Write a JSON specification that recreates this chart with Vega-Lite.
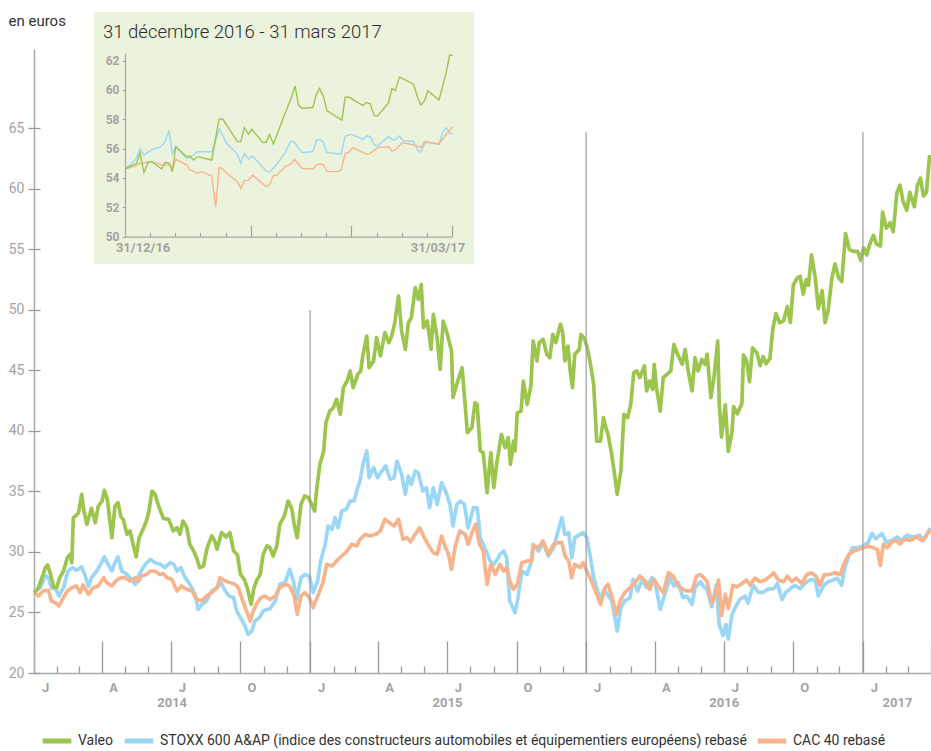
{
"$schema":"https://vega.github.io/schema/vega-lite/v6.json",
"width":897,"height":624,
"autosize":{"type":"none"},
"padding":{"left":34,"top":49,"right":0,"bottom":78},
"background":"white",
"config":{"view":{"stroke":null},"font":"Roboto"},
"layer":[
{"layer":[
 {"data":{"values":[
{"s":"STOXX","d":"2014-1","v":26.64},{"s":"STOXX","d":"2014-9","v":27.05},{"s":"STOXX","d":"2014-16","v":28.02},{"s":"STOXX","d":"2014-20","v":27.88},{"s":"STOXX","d":"2014-24","v":27.05},{"s":"STOXX","d":"2014-30","v":26.91},{"s":"STOXX","d":"2014-34","v":26.36},{"s":"STOXX","d":"2014-40","v":27.05},{"s":"STOXX","d":"2014-46","v":28.43},{"s":"STOXX","d":"2014-52","v":28.71},{"s":"STOXX","d":"2014-57","v":28.48},{"s":"STOXX","d":"2014-64","v":28.76},{"s":"STOXX","d":"2014-68","v":28.15},{"s":"STOXX","d":"2014-73","v":27.19},{"s":"STOXX","d":"2014-77","v":27.88},{"s":"STOXX","d":"2014-84","v":28.43},{"s":"STOXX","d":"2014-89","v":28.98},{"s":"STOXX","d":"2014-94","v":29.59},{"s":"STOXX","d":"2014-99","v":28.98},{"s":"STOXX","d":"2014-104","v":28.43},{"s":"STOXX","d":"2014-108","v":29.12},{"s":"STOXX","d":"2014-112","v":29.59},{"s":"STOXX","d":"2014-117","v":28.43},{"s":"STOXX","d":"2014-124","v":28.15},{"s":"STOXX","d":"2014-130","v":27.74},{"s":"STOXX","d":"2014-135","v":27.33},{"s":"STOXX","d":"2014-140","v":28.15},{"s":"STOXX","d":"2014-148","v":28.98},{"s":"STOXX","d":"2014-155","v":29.39},{"s":"STOXX","d":"2014-161","v":29.12},{"s":"STOXX","d":"2014-168","v":28.98},{"s":"STOXX","d":"2014-174","v":28.71},{"s":"STOXX","d":"2014-181","v":29.12},{"s":"STOXX","d":"2014-186","v":28.98},{"s":"STOXX","d":"2014-190","v":28.43},{"s":"STOXX","d":"2014-195","v":28.71},{"s":"STOXX","d":"2014-201","v":27.88},{"s":"STOXX","d":"2014-207","v":27.33},{"s":"STOXX","d":"2014-214","v":26.5},{"s":"STOXX","d":"2014-218","v":25.26},{"s":"STOXX","d":"2014-223","v":25.67},{"s":"STOXX","d":"2014-229","v":25.95},{"s":"STOXX","d":"2014-236","v":26.78},{"s":"STOXX","d":"2014-243","v":27.05},{"s":"STOXX","d":"2014-248","v":27.47},{"s":"STOXX","d":"2014-254","v":26.78},{"s":"STOXX","d":"2014-259","v":26.36},{"s":"STOXX","d":"2014-265","v":26.23},{"s":"STOXX","d":"2014-269","v":25.12},{"s":"STOXX","d":"2014-274","v":24.57},{"s":"STOXX","d":"2014-280","v":23.88},{"s":"STOXX","d":"2014-284","v":23.2},{"s":"STOXX","d":"2014-289","v":23.47},{"s":"STOXX","d":"2014-293","v":24.3},{"s":"STOXX","d":"2014-299","v":24.57},{"s":"STOXX","d":"2014-304","v":25.12},{"s":"STOXX","d":"2014-309","v":25.26},{"s":"STOXX","d":"2014-313","v":25.3},{"s":"STOXX","d":"2014-320","v":25.95},{"s":"STOXX","d":"2014-326","v":27.33},{"s":"STOXX","d":"2014-333","v":27.47},{"s":"STOXX","d":"2014-339","v":28.57},{"s":"STOXX","d":"2014-344","v":27.6},{"s":"STOXX","d":"2014-348","v":26.09},{"s":"STOXX","d":"2014-354","v":27.88},{"s":"STOXX","d":"2014-359","v":28.15},{"s":"STOXX","d":"2014-365","v":28.02},
{"s":"STOXX","d":"2015-5","v":26.64},{"s":"STOXX","d":"2015-11","v":27.6},{"s":"STOXX","d":"2015-15","v":29.26},{"s":"STOXX","d":"2015-21","v":30.63},{"s":"STOXX","d":"2015-25","v":32.15},{"s":"STOXX","d":"2015-30","v":31.87},{"s":"STOXX","d":"2015-34","v":32.84},{"s":"STOXX","d":"2015-38","v":32.01},{"s":"STOXX","d":"2015-43","v":33.39},{"s":"STOXX","d":"2015-49","v":33.53},{"s":"STOXX","d":"2015-54","v":34.21},{"s":"STOXX","d":"2015-59","v":34.21},{"s":"STOXX","d":"2015-64","v":35.32},{"s":"STOXX","d":"2015-67","v":35.87},{"s":"STOXX","d":"2015-71","v":37.25},{"s":"STOXX","d":"2015-76","v":38.35},{"s":"STOXX","d":"2015-79","v":36.14},{"s":"STOXX","d":"2015-85","v":36.97},{"s":"STOXX","d":"2015-90","v":36.14},{"s":"STOXX","d":"2015-96","v":36.69},{"s":"STOXX","d":"2015-101","v":37.11},{"s":"STOXX","d":"2015-107","v":36.01},{"s":"STOXX","d":"2015-112","v":36.14},{"s":"STOXX","d":"2015-116","v":37.52},{"s":"STOXX","d":"2015-122","v":36.42},{"s":"STOXX","d":"2015-127","v":34.77},{"s":"STOXX","d":"2015-131","v":36.28},{"s":"STOXX","d":"2015-135","v":35.59},{"s":"STOXX","d":"2015-140","v":36.69},{"s":"STOXX","d":"2015-144","v":36.56},{"s":"STOXX","d":"2015-150","v":35.04},{"s":"STOXX","d":"2015-155","v":35.32},{"s":"STOXX","d":"2015-159","v":33.66},{"s":"STOXX","d":"2015-164","v":35.32},{"s":"STOXX","d":"2015-169","v":33.94},{"s":"STOXX","d":"2015-175","v":35.73},{"s":"STOXX","d":"2015-181","v":34.9},{"s":"STOXX","d":"2015-186","v":33.94},{"s":"STOXX","d":"2015-190","v":32.15},{"s":"STOXX","d":"2015-195","v":33.94},{"s":"STOXX","d":"2015-200","v":34.21},{"s":"STOXX","d":"2015-205","v":33.94},{"s":"STOXX","d":"2015-210","v":32.01},{"s":"STOXX","d":"2015-217","v":33.66},{"s":"STOXX","d":"2015-222","v":33.66},{"s":"STOXX","d":"2015-226","v":31.18},{"s":"STOXX","d":"2015-232","v":30.36},{"s":"STOXX","d":"2015-239","v":29.26},{"s":"STOXX","d":"2015-244","v":28.98},{"s":"STOXX","d":"2015-250","v":29.53},{"s":"STOXX","d":"2015-252","v":29.81},{"s":"STOXX","d":"2015-257","v":30.08},{"s":"STOXX","d":"2015-261","v":29.53},{"s":"STOXX","d":"2015-265","v":25.95},{"s":"STOXX","d":"2015-272","v":24.99},{"s":"STOXX","d":"2015-276","v":26.23},{"s":"STOXX","d":"2015-281","v":28.43},{"s":"STOXX","d":"2015-288","v":28.15},{"s":"STOXX","d":"2015-294","v":29.26},{"s":"STOXX","d":"2015-296","v":30.63},{"s":"STOXX","d":"2015-303","v":30.08},{"s":"STOXX","d":"2015-309","v":30.77},{"s":"STOXX","d":"2015-316","v":29.67},{"s":"STOXX","d":"2015-323","v":30.36},{"s":"STOXX","d":"2015-329","v":31.74},{"s":"STOXX","d":"2015-334","v":32.84},{"s":"STOXX","d":"2015-338","v":31.46},{"s":"STOXX","d":"2015-343","v":31.6},{"s":"STOXX","d":"2015-347","v":29.53},{"s":"STOXX","d":"2015-351","v":31.18},{"s":"STOXX","d":"2015-358","v":31.46},{"s":"STOXX","d":"2015-362","v":31.6},
{"s":"STOXX","d":"2016-2","v":31.18},{"s":"STOXX","d":"2016-6","v":29.81},{"s":"STOXX","d":"2016-11","v":27.88},{"s":"STOXX","d":"2016-15","v":27.05},{"s":"STOXX","d":"2016-19","v":26.09},{"s":"STOXX","d":"2016-25","v":26.91},{"s":"STOXX","d":"2016-29","v":26.5},{"s":"STOXX","d":"2016-35","v":25.95},{"s":"STOXX","d":"2016-39","v":24.57},{"s":"STOXX","d":"2016-42","v":23.47},{"s":"STOXX","d":"2016-47","v":25.4},{"s":"STOXX","d":"2016-52","v":25.95},{"s":"STOXX","d":"2016-59","v":26.23},{"s":"STOXX","d":"2016-63","v":27.74},{"s":"STOXX","d":"2016-69","v":26.78},{"s":"STOXX","d":"2016-75","v":27.74},{"s":"STOXX","d":"2016-81","v":27.05},{"s":"STOXX","d":"2016-88","v":27.88},{"s":"STOXX","d":"2016-92","v":27.6},{"s":"STOXX","d":"2016-99","v":25.26},{"s":"STOXX","d":"2016-105","v":26.5},{"s":"STOXX","d":"2016-112","v":27.88},{"s":"STOXX","d":"2016-117","v":27.19},{"s":"STOXX","d":"2016-123","v":27.47},{"s":"STOXX","d":"2016-129","v":26.23},{"s":"STOXX","d":"2016-134","v":26.36},{"s":"STOXX","d":"2016-141","v":25.67},{"s":"STOXX","d":"2016-145","v":27.05},{"s":"STOXX","d":"2016-152","v":27.55},{"s":"STOXX","d":"2016-157","v":27.1},{"s":"STOXX","d":"2016-161","v":26.96},{"s":"STOXX","d":"2016-167","v":25.48},{"s":"STOXX","d":"2016-173","v":27.25},{"s":"STOXX","d":"2016-177","v":24.0},{"s":"STOXX","d":"2016-182","v":23.11},{"s":"STOXX","d":"2016-186","v":24.0},{"s":"STOXX","d":"2016-189","v":22.82},{"s":"STOXX","d":"2016-194","v":24.89},{"s":"STOXX","d":"2016-199","v":25.48},{"s":"STOXX","d":"2016-204","v":26.07},{"s":"STOXX","d":"2016-211","v":26.37},{"s":"STOXX","d":"2016-215","v":25.78},{"s":"STOXX","d":"2016-222","v":27.25},{"s":"STOXX","d":"2016-229","v":26.66},{"s":"STOXX","d":"2016-235","v":26.66},{"s":"STOXX","d":"2016-242","v":26.96},{"s":"STOXX","d":"2016-249","v":26.96},{"s":"STOXX","d":"2016-254","v":27.4},{"s":"STOXX","d":"2016-260","v":26.07},{"s":"STOXX","d":"2016-265","v":26.66},{"s":"STOXX","d":"2016-271","v":26.96},{"s":"STOXX","d":"2016-277","v":27.25},{"s":"STOXX","d":"2016-284","v":26.96},{"s":"STOXX","d":"2016-290","v":27.4},{"s":"STOXX","d":"2016-297","v":27.69},{"s":"STOXX","d":"2016-304","v":27.69},{"s":"STOXX","d":"2016-308","v":26.37},{"s":"STOXX","d":"2016-315","v":27.25},{"s":"STOXX","d":"2016-321","v":27.55},{"s":"STOXX","d":"2016-328","v":27.69},{"s":"STOXX","d":"2016-333","v":27.84},{"s":"STOXX","d":"2016-339","v":27.25},{"s":"STOXX","d":"2016-343","v":28.73},{"s":"STOXX","d":"2016-348","v":29.62},{"s":"STOXX","d":"2016-353","v":30.35},{"s":"STOXX","d":"2016-359","v":30.35},
{"s":"STOXX","d":"2017-2","v":30.5},{"s":"STOXX","d":"2017-8","v":30.8},{"s":"STOXX","d":"2017-13","v":31.54},{"s":"STOXX","d":"2017-18","v":31.09},{"s":"STOXX","d":"2017-26","v":31.54},{"s":"STOXX","d":"2017-32","v":30.8},{"s":"STOXX","d":"2017-39","v":30.95},{"s":"STOXX","d":"2017-46","v":31.24},{"s":"STOXX","d":"2017-52","v":30.95},{"s":"STOXX","d":"2017-59","v":31.39},{"s":"STOXX","d":"2017-68","v":31.24},{"s":"STOXX","d":"2017-76","v":31.39},{"s":"STOXX","d":"2017-81","v":30.95},{"s":"STOXX","d":"2017-85","v":31.39},{"s":"STOXX","d":"2017-90","v":31.98},
{"s":"CAC","d":"2014-1","v":26.64},{"s":"CAC","d":"2014-7","v":26.36},{"s":"CAC","d":"2014-13","v":26.78},{"s":"CAC","d":"2014-20","v":26.83},{"s":"CAC","d":"2014-24","v":25.95},{"s":"CAC","d":"2014-29","v":25.81},{"s":"CAC","d":"2014-34","v":25.54},{"s":"CAC","d":"2014-40","v":26.23},{"s":"CAC","d":"2014-45","v":26.78},{"s":"CAC","d":"2014-51","v":27.05},{"s":"CAC","d":"2014-57","v":27.19},{"s":"CAC","d":"2014-62","v":26.64},{"s":"CAC","d":"2014-66","v":27.27},{"s":"CAC","d":"2014-73","v":26.5},{"s":"CAC","d":"2014-79","v":27.05},{"s":"CAC","d":"2014-86","v":27.19},{"s":"CAC","d":"2014-93","v":27.88},{"s":"CAC","d":"2014-97","v":27.47},{"s":"CAC","d":"2014-104","v":27.19},{"s":"CAC","d":"2014-109","v":27.6},{"s":"CAC","d":"2014-116","v":27.88},{"s":"CAC","d":"2014-121","v":27.88},{"s":"CAC","d":"2014-128","v":27.6},{"s":"CAC","d":"2014-135","v":27.88},{"s":"CAC","d":"2014-139","v":27.55},{"s":"CAC","d":"2014-143","v":28.02},{"s":"CAC","d":"2014-150","v":28.15},{"s":"CAC","d":"2014-155","v":28.43},{"s":"CAC","d":"2014-161","v":28.43},{"s":"CAC","d":"2014-167","v":28.15},{"s":"CAC","d":"2014-172","v":28.21},{"s":"CAC","d":"2014-177","v":27.88},{"s":"CAC","d":"2014-183","v":27.74},{"s":"CAC","d":"2014-190","v":26.78},{"s":"CAC","d":"2014-196","v":27.19},{"s":"CAC","d":"2014-203","v":26.91},{"s":"CAC","d":"2014-210","v":26.78},{"s":"CAC","d":"2014-216","v":26.09},{"s":"CAC","d":"2014-223","v":25.95},{"s":"CAC","d":"2014-229","v":26.36},{"s":"CAC","d":"2014-236","v":26.64},{"s":"CAC","d":"2014-243","v":27.05},{"s":"CAC","d":"2014-247","v":27.88},{"s":"CAC","d":"2014-254","v":27.6},{"s":"CAC","d":"2014-260","v":27.47},{"s":"CAC","d":"2014-267","v":27.33},{"s":"CAC","d":"2014-271","v":27.05},{"s":"CAC","d":"2014-277","v":25.95},{"s":"CAC","d":"2014-282","v":25.12},{"s":"CAC","d":"2014-287","v":24.3},{"s":"CAC","d":"2014-290","v":24.99},{"s":"CAC","d":"2014-295","v":25.67},{"s":"CAC","d":"2014-301","v":26.23},{"s":"CAC","d":"2014-306","v":26.36},{"s":"CAC","d":"2014-313","v":26.09},{"s":"CAC","d":"2014-320","v":26.36},{"s":"CAC","d":"2014-326","v":27.05},{"s":"CAC","d":"2014-333","v":27.33},{"s":"CAC","d":"2014-339","v":27.19},{"s":"CAC","d":"2014-345","v":26.36},{"s":"CAC","d":"2014-349","v":24.85},{"s":"CAC","d":"2014-354","v":26.36},{"s":"CAC","d":"2014-359","v":26.64},{"s":"CAC","d":"2014-365","v":26.23},
{"s":"CAC","d":"2015-5","v":25.4},{"s":"CAC","d":"2015-12","v":26.5},{"s":"CAC","d":"2015-18","v":27.47},{"s":"CAC","d":"2015-23","v":28.98},{"s":"CAC","d":"2015-30","v":28.84},{"s":"CAC","d":"2015-36","v":29.26},{"s":"CAC","d":"2015-43","v":29.67},{"s":"CAC","d":"2015-50","v":30.08},{"s":"CAC","d":"2015-56","v":30.63},{"s":"CAC","d":"2015-63","v":30.5},{"s":"CAC","d":"2015-67","v":31.05},{"s":"CAC","d":"2015-74","v":31.46},{"s":"CAC","d":"2015-80","v":31.32},{"s":"CAC","d":"2015-88","v":31.46},{"s":"CAC","d":"2015-94","v":31.74},{"s":"CAC","d":"2015-100","v":32.7},{"s":"CAC","d":"2015-106","v":32.42},{"s":"CAC","d":"2015-112","v":32.15},{"s":"CAC","d":"2015-118","v":32.7},{"s":"CAC","d":"2015-124","v":31.05},{"s":"CAC","d":"2015-129","v":31.18},{"s":"CAC","d":"2015-134","v":30.85},{"s":"CAC","d":"2015-140","v":31.46},{"s":"CAC","d":"2015-146","v":32.01},{"s":"CAC","d":"2015-152","v":31.18},{"s":"CAC","d":"2015-157","v":30.63},{"s":"CAC","d":"2015-164","v":29.94},{"s":"CAC","d":"2015-169","v":29.81},{"s":"CAC","d":"2015-175","v":31.32},{"s":"CAC","d":"2015-180","v":30.36},{"s":"CAC","d":"2015-184","v":29.81},{"s":"CAC","d":"2015-188","v":28.57},{"s":"CAC","d":"2015-193","v":30.5},{"s":"CAC","d":"2015-199","v":31.74},{"s":"CAC","d":"2015-206","v":31.46},{"s":"CAC","d":"2015-210","v":30.63},{"s":"CAC","d":"2015-216","v":31.74},{"s":"CAC","d":"2015-220","v":32.29},{"s":"CAC","d":"2015-225","v":30.63},{"s":"CAC","d":"2015-230","v":30.08},{"s":"CAC","d":"2015-235","v":27.33},{"s":"CAC","d":"2015-240","v":28.98},{"s":"CAC","d":"2015-246","v":28.15},{"s":"CAC","d":"2015-252","v":28.98},{"s":"CAC","d":"2015-257","v":28.43},{"s":"CAC","d":"2015-261","v":28.71},{"s":"CAC","d":"2015-265","v":27.6},{"s":"CAC","d":"2015-270","v":26.91},{"s":"CAC","d":"2015-275","v":27.33},{"s":"CAC","d":"2015-281","v":29.12},{"s":"CAC","d":"2015-288","v":29.26},{"s":"CAC","d":"2015-294","v":29.26},{"s":"CAC","d":"2015-296","v":30.5},{"s":"CAC","d":"2015-303","v":30.36},{"s":"CAC","d":"2015-309","v":30.91},{"s":"CAC","d":"2015-316","v":29.81},{"s":"CAC","d":"2015-323","v":30.63},{"s":"CAC","d":"2015-329","v":30.77},{"s":"CAC","d":"2015-334","v":30.77},{"s":"CAC","d":"2015-338","v":29.67},{"s":"CAC","d":"2015-343","v":29.26},{"s":"CAC","d":"2015-347","v":27.88},{"s":"CAC","d":"2015-351","v":28.98},{"s":"CAC","d":"2015-358","v":28.71},{"s":"CAC","d":"2015-362","v":29.12},
{"s":"CAC","d":"2016-2","v":28.43},{"s":"CAC","d":"2016-8","v":27.6},{"s":"CAC","d":"2016-15","v":26.5},{"s":"CAC","d":"2016-20","v":25.67},{"s":"CAC","d":"2016-26","v":27.05},{"s":"CAC","d":"2016-30","v":27.33},{"s":"CAC","d":"2016-36","v":26.09},{"s":"CAC","d":"2016-41","v":24.85},{"s":"CAC","d":"2016-46","v":25.95},{"s":"CAC","d":"2016-52","v":26.64},{"s":"CAC","d":"2016-59","v":27.05},{"s":"CAC","d":"2016-66","v":27.47},{"s":"CAC","d":"2016-72","v":28.02},{"s":"CAC","d":"2016-79","v":27.6},{"s":"CAC","d":"2016-85","v":26.91},{"s":"CAC","d":"2016-91","v":27.74},{"s":"CAC","d":"2016-96","v":27.19},{"s":"CAC","d":"2016-103","v":26.64},{"s":"CAC","d":"2016-110","v":28.29},{"s":"CAC","d":"2016-116","v":28.02},{"s":"CAC","d":"2016-123","v":27.19},{"s":"CAC","d":"2016-129","v":26.91},{"s":"CAC","d":"2016-134","v":26.78},{"s":"CAC","d":"2016-141","v":26.78},{"s":"CAC","d":"2016-147","v":28.02},{"s":"CAC","d":"2016-152","v":28.14},{"s":"CAC","d":"2016-157","v":27.84},{"s":"CAC","d":"2016-161","v":27.55},{"s":"CAC","d":"2016-167","v":25.78},{"s":"CAC","d":"2016-171","v":26.37},{"s":"CAC","d":"2016-176","v":27.69},{"s":"CAC","d":"2016-180","v":24.74},{"s":"CAC","d":"2016-185","v":26.51},{"s":"CAC","d":"2016-189","v":25.33},{"s":"CAC","d":"2016-195","v":27.25},{"s":"CAC","d":"2016-200","v":27.1},{"s":"CAC","d":"2016-207","v":27.4},{"s":"CAC","d":"2016-213","v":27.69},{"s":"CAC","d":"2016-218","v":27.25},{"s":"CAC","d":"2016-224","v":27.84},{"s":"CAC","d":"2016-231","v":27.55},{"s":"CAC","d":"2016-238","v":27.69},{"s":"CAC","d":"2016-244","v":27.99},{"s":"CAC","d":"2016-249","v":28.28},{"s":"CAC","d":"2016-255","v":27.69},{"s":"CAC","d":"2016-262","v":27.55},{"s":"CAC","d":"2016-267","v":27.99},{"s":"CAC","d":"2016-273","v":27.55},{"s":"CAC","d":"2016-279","v":27.84},{"s":"CAC","d":"2016-286","v":27.4},{"s":"CAC","d":"2016-293","v":28.14},{"s":"CAC","d":"2016-299","v":28.28},{"s":"CAC","d":"2016-305","v":27.99},{"s":"CAC","d":"2016-310","v":27.25},{"s":"CAC","d":"2016-316","v":28.14},{"s":"CAC","d":"2016-323","v":28.14},{"s":"CAC","d":"2016-330","v":28.28},{"s":"CAC","d":"2016-337","v":28.14},{"s":"CAC","d":"2016-342","v":29.03},{"s":"CAC","d":"2016-348","v":29.77},{"s":"CAC","d":"2016-354","v":30.06},{"s":"CAC","d":"2016-361","v":30.21},
{"s":"CAC","d":"2017-2","v":30.35},{"s":"CAC","d":"2017-8","v":30.5},{"s":"CAC","d":"2017-15","v":30.35},{"s":"CAC","d":"2017-20","v":30.21},{"s":"CAC","d":"2017-24","v":28.88},{"s":"CAC","d":"2017-28","v":30.65},{"s":"CAC","d":"2017-33","v":30.35},{"s":"CAC","d":"2017-39","v":30.8},{"s":"CAC","d":"2017-45","v":30.95},{"s":"CAC","d":"2017-50","v":30.65},{"s":"CAC","d":"2017-57","v":31.09},{"s":"CAC","d":"2017-63","v":30.95},{"s":"CAC","d":"2017-72","v":31.24},{"s":"CAC","d":"2017-79","v":30.95},{"s":"CAC","d":"2017-85","v":31.39},{"s":"CAC","d":"2017-90","v":31.83},
{"s":"Valeo","d":"2014-1","v":26.64},{"s":"Valeo","d":"2014-7","v":27.05},{"s":"Valeo","d":"2014-16","v":28.7},{"s":"Valeo","d":"2014-19","v":28.93},{"s":"Valeo","d":"2014-23","v":28.15},{"s":"Valeo","d":"2014-27","v":27.1},{"s":"Valeo","d":"2014-31","v":27.05},{"s":"Valeo","d":"2014-35","v":27.88},{"s":"Valeo","d":"2014-40","v":28.43},{"s":"Valeo","d":"2014-45","v":29.53},{"s":"Valeo","d":"2014-49","v":29.81},{"s":"Valeo","d":"2014-51","v":29.12},{"s":"Valeo","d":"2014-53","v":32.84},{"s":"Valeo","d":"2014-56","v":32.98},{"s":"Valeo","d":"2014-60","v":33.25},{"s":"Valeo","d":"2014-64","v":34.77},{"s":"Valeo","d":"2014-67","v":33.39},{"s":"Valeo","d":"2014-71","v":32.29},{"s":"Valeo","d":"2014-77","v":33.61},{"s":"Valeo","d":"2014-82","v":32.42},{"s":"Valeo","d":"2014-86","v":33.8},{"s":"Valeo","d":"2014-91","v":34.21},{"s":"Valeo","d":"2014-94","v":35.1},{"s":"Valeo","d":"2014-98","v":34.35},{"s":"Valeo","d":"2014-104","v":31.18},{"s":"Valeo","d":"2014-108","v":33.8},{"s":"Valeo","d":"2014-112","v":34.08},{"s":"Valeo","d":"2014-116","v":32.89},{"s":"Valeo","d":"2014-119","v":32.7},{"s":"Valeo","d":"2014-124","v":31.46},{"s":"Valeo","d":"2014-128","v":31.74},{"s":"Valeo","d":"2014-136","v":29.59},{"s":"Valeo","d":"2014-140","v":31.18},{"s":"Valeo","d":"2014-146","v":32.01},{"s":"Valeo","d":"2014-150","v":32.62},{"s":"Valeo","d":"2014-153","v":33.39},{"s":"Valeo","d":"2014-157","v":35.04},{"s":"Valeo","d":"2014-161","v":34.77},{"s":"Valeo","d":"2014-165","v":33.94},{"s":"Valeo","d":"2014-172","v":32.78},{"s":"Valeo","d":"2014-179","v":32.7},{"s":"Valeo","d":"2014-185","v":31.74},{"s":"Valeo","d":"2014-190","v":32.01},{"s":"Valeo","d":"2014-194","v":31.46},{"s":"Valeo","d":"2014-198","v":32.56},{"s":"Valeo","d":"2014-203","v":32.01},{"s":"Valeo","d":"2014-207","v":30.63},{"s":"Valeo","d":"2014-212","v":30.08},{"s":"Valeo","d":"2014-216","v":29.53},{"s":"Valeo","d":"2014-220","v":28.71},{"s":"Valeo","d":"2014-225","v":28.84},{"s":"Valeo","d":"2014-230","v":30.36},{"s":"Valeo","d":"2014-236","v":31.32},{"s":"Valeo","d":"2014-240","v":30.91},{"s":"Valeo","d":"2014-243","v":30.22},{"s":"Valeo","d":"2014-249","v":31.6},{"s":"Valeo","d":"2014-255","v":31.24},{"s":"Valeo","d":"2014-260","v":31.6},{"s":"Valeo","d":"2014-265","v":30.08},{"s":"Valeo","d":"2014-270","v":29.75},{"s":"Valeo","d":"2014-274","v":28.15},{"s":"Valeo","d":"2014-279","v":27.74},{"s":"Valeo","d":"2014-283","v":27.05},{"s":"Valeo","d":"2014-288","v":25.67},{"s":"Valeo","d":"2014-292","v":27.05},{"s":"Valeo","d":"2014-295","v":27.6},{"s":"Valeo","d":"2014-300","v":28.15},{"s":"Valeo","d":"2014-304","v":29.81},{"s":"Valeo","d":"2014-309","v":30.5},{"s":"Valeo","d":"2014-313","v":30.36},{"s":"Valeo","d":"2014-317","v":29.67},{"s":"Valeo","d":"2014-322","v":30.5},{"s":"Valeo","d":"2014-326","v":32.29},{"s":"Valeo","d":"2014-332","v":32.98},{"s":"Valeo","d":"2014-337","v":34.21},{"s":"Valeo","d":"2014-342","v":33.53},{"s":"Valeo","d":"2014-345","v":32.29},{"s":"Valeo","d":"2014-349","v":31.18},{"s":"Valeo","d":"2014-354","v":33.94},{"s":"Valeo","d":"2014-359","v":34.63},{"s":"Valeo","d":"2014-364","v":34.49},
{"s":"Valeo","d":"2015-3","v":33.94},{"s":"Valeo","d":"2015-7","v":33.39},{"s":"Valeo","d":"2015-10","v":35.32},{"s":"Valeo","d":"2015-14","v":37.25},{"s":"Valeo","d":"2015-19","v":38.35},{"s":"Valeo","d":"2015-22","v":40.69},{"s":"Valeo","d":"2015-27","v":41.65},{"s":"Valeo","d":"2015-32","v":41.93},{"s":"Valeo","d":"2015-36","v":42.62},{"s":"Valeo","d":"2015-41","v":41.38},{"s":"Valeo","d":"2015-45","v":43.58},{"s":"Valeo","d":"2015-50","v":44.13},{"s":"Valeo","d":"2015-54","v":44.96},{"s":"Valeo","d":"2015-58","v":43.58},{"s":"Valeo","d":"2015-64","v":44.68},{"s":"Valeo","d":"2015-68","v":44.96},{"s":"Valeo","d":"2015-71","v":46.34},{"s":"Valeo","d":"2015-76","v":47.85},{"s":"Valeo","d":"2015-79","v":45.23},{"s":"Valeo","d":"2015-85","v":45.79},{"s":"Valeo","d":"2015-89","v":47.71},{"s":"Valeo","d":"2015-94","v":46.2},{"s":"Valeo","d":"2015-100","v":48.13},{"s":"Valeo","d":"2015-105","v":47.3},{"s":"Valeo","d":"2015-109","v":47.85},{"s":"Valeo","d":"2015-113","v":48.95},{"s":"Valeo","d":"2015-118","v":51.16},{"s":"Valeo","d":"2015-122","v":48.26},{"s":"Valeo","d":"2015-127","v":46.75},{"s":"Valeo","d":"2015-131","v":48.95},{"s":"Valeo","d":"2015-135","v":49.37},{"s":"Valeo","d":"2015-140","v":51.85},{"s":"Valeo","d":"2015-144","v":50.88},{"s":"Valeo","d":"2015-148","v":52.12},{"s":"Valeo","d":"2015-151","v":48.54},{"s":"Valeo","d":"2015-156","v":49.09},{"s":"Valeo","d":"2015-161","v":46.75},{"s":"Valeo","d":"2015-164","v":49.64},{"s":"Valeo","d":"2015-169","v":47.71},{"s":"Valeo","d":"2015-173","v":45.1},{"s":"Valeo","d":"2015-177","v":49.09},{"s":"Valeo","d":"2015-182","v":48.13},{"s":"Valeo","d":"2015-188","v":46.61},{"s":"Valeo","d":"2015-190","v":42.76},{"s":"Valeo","d":"2015-195","v":43.86},{"s":"Valeo","d":"2015-202","v":45.23},{"s":"Valeo","d":"2015-206","v":42.2},{"s":"Valeo","d":"2015-209","v":39.86},{"s":"Valeo","d":"2015-215","v":40.28},{"s":"Valeo","d":"2015-219","v":42.34},{"s":"Valeo","d":"2015-222","v":42.2},{"s":"Valeo","d":"2015-226","v":38.35},{"s":"Valeo","d":"2015-230","v":38.21},{"s":"Valeo","d":"2015-235","v":34.9},{"s":"Valeo","d":"2015-240","v":38.21},{"s":"Valeo","d":"2015-244","v":35.32},{"s":"Valeo","d":"2015-248","v":37.38},{"s":"Valeo","d":"2015-254","v":39.72},{"s":"Valeo","d":"2015-259","v":38.62},{"s":"Valeo","d":"2015-263","v":39.45},{"s":"Valeo","d":"2015-266","v":37.25},{"s":"Valeo","d":"2015-270","v":39.17},{"s":"Valeo","d":"2015-272","v":38.35},{"s":"Valeo","d":"2015-275","v":41.52},{"s":"Valeo","d":"2015-280","v":41.65},{"s":"Valeo","d":"2015-283","v":44.13},{"s":"Valeo","d":"2015-288","v":42.2},{"s":"Valeo","d":"2015-293","v":43.72},{"s":"Valeo","d":"2015-296","v":47.44},{"s":"Valeo","d":"2015-301","v":45.79},{"s":"Valeo","d":"2015-304","v":47.3},{"s":"Valeo","d":"2015-309","v":47.58},{"s":"Valeo","d":"2015-314","v":46.34},{"s":"Valeo","d":"2015-318","v":46.06},{"s":"Valeo","d":"2015-322","v":47.99},{"s":"Valeo","d":"2015-326","v":47.3},{"s":"Valeo","d":"2015-332","v":48.82},{"s":"Valeo","d":"2015-335","v":48.13},{"s":"Valeo","d":"2015-338","v":45.79},{"s":"Valeo","d":"2015-342","v":47.02},{"s":"Valeo","d":"2015-345","v":44.96},{"s":"Valeo","d":"2015-348","v":43.58},{"s":"Valeo","d":"2015-351","v":46.34},{"s":"Valeo","d":"2015-357","v":46.75},{"s":"Valeo","d":"2015-359","v":47.99},{"s":"Valeo","d":"2015-363","v":47.71},
{"s":"Valeo","d":"2016-2","v":47.02},{"s":"Valeo","d":"2016-6","v":45.79},{"s":"Valeo","d":"2016-11","v":43.86},{"s":"Valeo","d":"2016-15","v":39.17},{"s":"Valeo","d":"2016-20","v":39.17},{"s":"Valeo","d":"2016-24","v":41.1},{"s":"Valeo","d":"2016-27","v":40.28},{"s":"Valeo","d":"2016-30","v":39.72},{"s":"Valeo","d":"2016-34","v":38.35},{"s":"Valeo","d":"2016-38","v":36.69},{"s":"Valeo","d":"2016-42","v":34.77},{"s":"Valeo","d":"2016-47","v":36.69},{"s":"Valeo","d":"2016-51","v":41.38},{"s":"Valeo","d":"2016-56","v":41.1},{"s":"Valeo","d":"2016-60","v":42.2},{"s":"Valeo","d":"2016-64","v":44.82},{"s":"Valeo","d":"2016-68","v":44.96},{"s":"Valeo","d":"2016-72","v":44.41},{"s":"Valeo","d":"2016-78","v":45.37},{"s":"Valeo","d":"2016-81","v":43.31},{"s":"Valeo","d":"2016-85","v":44.13},{"s":"Valeo","d":"2016-89","v":43.44},{"s":"Valeo","d":"2016-91","v":45.51},{"s":"Valeo","d":"2016-94","v":43.58},{"s":"Valeo","d":"2016-99","v":41.65},{"s":"Valeo","d":"2016-103","v":44.41},{"s":"Valeo","d":"2016-108","v":44.68},{"s":"Valeo","d":"2016-113","v":44.96},{"s":"Valeo","d":"2016-117","v":47.16},{"s":"Valeo","d":"2016-122","v":46.34},{"s":"Valeo","d":"2016-128","v":45.51},{"s":"Valeo","d":"2016-132","v":46.75},{"s":"Valeo","d":"2016-136","v":44.96},{"s":"Valeo","d":"2016-141","v":43.31},{"s":"Valeo","d":"2016-145","v":46.06},{"s":"Valeo","d":"2016-149","v":44.96},{"s":"Valeo","d":"2016-154","v":45.92},{"s":"Valeo","d":"2016-158","v":45.51},{"s":"Valeo","d":"2016-161","v":46.34},{"s":"Valeo","d":"2016-166","v":42.76},{"s":"Valeo","d":"2016-170","v":44.41},{"s":"Valeo","d":"2016-175","v":47.44},{"s":"Valeo","d":"2016-177","v":42.3},{"s":"Valeo","d":"2016-180","v":39.5},{"s":"Valeo","d":"2016-185","v":42.16},{"s":"Valeo","d":"2016-189","v":38.32},{"s":"Valeo","d":"2016-194","v":39.94},{"s":"Valeo","d":"2016-196","v":42.01},{"s":"Valeo","d":"2016-201","v":41.42},{"s":"Valeo","d":"2016-207","v":42.3},{"s":"Valeo","d":"2016-209","v":46.29},{"s":"Valeo","d":"2016-213","v":45.84},{"s":"Valeo","d":"2016-217","v":44.07},{"s":"Valeo","d":"2016-221","v":46.87},{"s":"Valeo","d":"2016-227","v":46.43},{"s":"Valeo","d":"2016-231","v":45.4},{"s":"Valeo","d":"2016-235","v":46.14},{"s":"Valeo","d":"2016-239","v":45.56},{"s":"Valeo","d":"2016-244","v":46.0},{"s":"Valeo","d":"2016-248","v":48.51},{"s":"Valeo","d":"2016-252","v":49.69},{"s":"Valeo","d":"2016-257","v":48.95},{"s":"Valeo","d":"2016-262","v":49.1},{"s":"Valeo","d":"2016-267","v":50.28},{"s":"Valeo","d":"2016-271","v":48.95},{"s":"Valeo","d":"2016-275","v":52.05},{"s":"Valeo","d":"2016-280","v":52.64},{"s":"Valeo","d":"2016-284","v":52.79},{"s":"Valeo","d":"2016-288","v":51.31},{"s":"Valeo","d":"2016-292","v":52.49},{"s":"Valeo","d":"2016-295","v":52.05},{"s":"Valeo","d":"2016-299","v":54.56},{"s":"Valeo","d":"2016-304","v":52.64},{"s":"Valeo","d":"2016-308","v":50.13},{"s":"Valeo","d":"2016-313","v":51.6},{"s":"Valeo","d":"2016-317","v":48.95},{"s":"Valeo","d":"2016-321","v":49.98},{"s":"Valeo","d":"2016-326","v":52.64},{"s":"Valeo","d":"2016-330","v":53.82},{"s":"Valeo","d":"2016-335","v":52.64},{"s":"Valeo","d":"2016-339","v":52.34},{"s":"Valeo","d":"2016-344","v":56.32},{"s":"Valeo","d":"2016-349","v":54.99},{"s":"Valeo","d":"2016-354","v":54.85},{"s":"Valeo","d":"2016-360","v":54.85},{"s":"Valeo","d":"2016-364","v":54.11},
{"s":"Valeo","d":"2017-2","v":55.14},{"s":"Valeo","d":"2017-6","v":54.55},{"s":"Valeo","d":"2017-10","v":55.44},{"s":"Valeo","d":"2017-15","v":56.17},{"s":"Valeo","d":"2017-19","v":55.44},{"s":"Valeo","d":"2017-24","v":55.29},{"s":"Valeo","d":"2017-27","v":58.09},{"s":"Valeo","d":"2017-32","v":56.76},{"s":"Valeo","d":"2017-37","v":57.21},{"s":"Valeo","d":"2017-41","v":56.47},{"s":"Valeo","d":"2017-46","v":59.72},{"s":"Valeo","d":"2017-50","v":60.31},{"s":"Valeo","d":"2017-54","v":58.98},{"s":"Valeo","d":"2017-59","v":58.24},{"s":"Valeo","d":"2017-63","v":59.72},{"s":"Valeo","d":"2017-69","v":58.54},{"s":"Valeo","d":"2017-73","v":60.31},{"s":"Valeo","d":"2017-77","v":60.9},{"s":"Valeo","d":"2017-81","v":59.42},{"s":"Valeo","d":"2017-85","v":59.72},{"s":"Valeo","d":"2017-89","v":62.67},{"s":"Valeo","d":"2017-90","v":62.4}
 ],"format":{"parse":{"d":"date:'%Y-%j'"}}},
 "mark":{"type":"line","strokeWidth":3.7,"strokeJoin":"round"},
 "encoding":{
  "x":{"field":"d","type":"temporal","title":null,
   "scale":{"domain":[{"year":2014,"month":1,"date":1},{"year":2017,"month":4,"date":1}],"nice":false},
   "axis":{"orient":"bottom","tickCount":{"interval":"month","step":1},"grid":false,
    "tickSize":{"condition":{"test":"month(datum.value) % 3 == 0","value":-32},"value":-7},
    "tickColor":"#9a9a9a","tickWidth":1.3,"domainColor":"#aaaaaa","domainWidth":1.5,
    "labelExpr":"(year(datum.value) == 2017 && month(datum.value) >= 3) ? '' : month(datum.value)==0 ? 'J' : month(datum.value)==3 ? 'A' : month(datum.value)==6 ? 'J' : month(datum.value)==9 ? 'O' : ''",
    "labelOffset":11,"labelPadding":40,"labelFlush":false,"labelOverlap":false,
    "labelColor":"#a3a3a3","labelFontSize":13,"labelFontWeight":"bold"}},
  "y":{"field":"v","type":"quantitative",
   "scale":{"domain":[20,71.57],"nice":false,"zero":false},
   "axis":{"orient":"left","values":[20,25,30,35,40,45,50,55,60,65],"grid":false,"tickSize":6,"tickColor":"#9a9a9a","tickWidth":1.3,
    "domainColor":"#aaaaaa","domainWidth":1.5,"labelColor":"#a3a3a3","labelFontSize":14,"labelPadding":4,
    "title":"en euros","titleAngle":0,"titleAlign":"left","titleBaseline":"middle","titleX":-26,"titleY":-29,
    "titleFontSize":15,"titleFontWeight":"normal","titleColor":"#333333"}},
  "color":{"field":"s","type":"nominal",
   "scale":{"domain":["Valeo","STOXX","CAC"],"range":["#9cc54e","#9ad6f5","#f7b48c"]},
   "legend":{"orient":"none","legendX":6,"legendY":675,"direction":"horizontal","title":null,
    "symbolType":"stroke","symbolSize":820,"symbolStrokeWidth":5,"labelFontSize":14,"labelLimit":900,
    "columnPadding":0,"labelOffset":4,"labelColor":"#333333",
    "labelExpr":"datum.label == 'STOXX' ? 'STOXX 600 A&AP (indice des constructeurs automobiles et équipementiers européens) rebasé' : datum.label == 'CAC' ? 'CAC 40 rebasé' : datum.label"}}
 }},
 {"data":{"values":[{"d":"2015-1","lo":20,"top":50},{"d":"2016-1","lo":20,"top":64.7},{"d":"2017-1","lo":20,"top":64.7}],"format":{"parse":{"d":"date:'%Y-%j'"}}},
  "mark":{"type":"rule","color":"#9a9a9a","strokeWidth":1.2},
  "encoding":{
   "x":{"field":"d","type":"temporal","title":null,
    "axis":{"orient":"bottom","values":[{"year":2014,"month":7,"date":2},{"year":2015,"month":7,"date":1},{"year":2016,"month":7,"date":1},{"year":2017,"month":2,"date":15}],
     "labelExpr":"timeFormat(datum.value, '%Y')","ticks":false,"domain":false,"grid":false,"labelPadding":23,
     "labelFlush":false,"labelOverlap":false,"labelColor":"#a3a3a3","labelFontSize":13,"labelFontWeight":"bold"}},
   "y":{"field":"lo","type":"quantitative","title":null,
    "axis":{"orient":"left","values":[20,25,30,35,40,45,50,55,60,65],"tickSize":-6,"tickColor":"#9a9a9a","tickWidth":1.3,"labels":false,"domain":false,"grid":false,"title":null}},
   "y2":{"field":"top"}
  }}
 ],
 "resolve":{"axis":{"x":"independent","y":"independent"}}
},
{"layer":[
 {"data":{"values":[{}]},
  "mark":{"type":"rect","color":"#ecf3dd"},
  "encoding":{
   "x":{"datum":-6.16,"type":"quantitative","scale":{"domain":[0,65],"range":[91,418],"nice":false,"zero":false},
    "axis":{"orient":"bottom","offset":-436.4,"values":[3.5,62.12],"labelExpr":"datum.value < 30 ? '31/12/16' : '31/03/17'",
     "ticks":false,"domain":false,"grid":false,"labelPadding":5,"labelFlush":false,"labelOverlap":false,"zindex":2,
     "labelColor":"#a3a3a3","labelFontSize":13,"labelFontWeight":"bold","title":null}},
   "x2":{"datum":69.37},
   "y":{"datum":48.13,"type":"quantitative","scale":{"domain":[50,62.5],"range":[187.6,4.3],"nice":false,"zero":false},"axis":null},
   "y2":{"datum":65.32}
  }},
 {"data":{"values":[{}]},
  "mark":{"type":"text","text":"31 décembre 2016 - 31 mars 2017","align":"left","baseline":"middle","fontSize":18.5,"fontWeight":300,"color":"#2b2b2b"},
  "encoding":{
   "x":{"datum":-4.37,"type":"quantitative","axis":null},
   "y":{"datum":63.95,"type":"quantitative","axis":null}
  }},
 {"data":{"values":[
{"s":"STOXX","j":0,"v":54.61},{"s":"STOXX","j":2.19,"v":55.29},{"s":"STOXX","j":2.98,"v":55.97},{"s":"STOXX","j":3.78,"v":55.57},{"s":"STOXX","j":5.31,"v":55.91},{"s":"STOXX","j":7.1,"v":56.13},{"s":"STOXX","j":7.96,"v":56.48},{"s":"STOXX","j":8.75,"v":57.25},{"s":"STOXX","j":9.42,"v":55.63},{"s":"STOXX","j":10.08,"v":56.13},{"s":"STOXX","j":12.27,"v":55.34},{"s":"STOXX","j":12.93,"v":55.38},{"s":"STOXX","j":14.39,"v":55.79},{"s":"STOXX","j":17.24,"v":55.79},{"s":"STOXX","j":18.77,"v":57.32},{"s":"STOXX","j":20.23,"v":56.36},{"s":"STOXX","j":22.35,"v":55.61},{"s":"STOXX","j":23.01,"v":55.0},{"s":"STOXX","j":23.74,"v":55.68},{"s":"STOXX","j":24.54,"v":55.27},{"s":"STOXX","j":25.33,"v":55.5},{"s":"STOXX","j":28.18,"v":54.43},{"s":"STOXX","j":28.85,"v":54.43},{"s":"STOXX","j":30.17,"v":54.93},{"s":"STOXX","j":31.83,"v":55.75},{"s":"STOXX","j":33.02,"v":56.52},{"s":"STOXX","j":33.69,"v":56.43},{"s":"STOXX","j":35.15,"v":55.73},{"s":"STOXX","j":37.33,"v":55.79},{"s":"STOXX","j":38.13,"v":56.59},{"s":"STOXX","j":38.79,"v":56.63},{"s":"STOXX","j":39.46,"v":56.41},{"s":"STOXX","j":40.12,"v":55.73},{"s":"STOXX","j":42.97,"v":55.63},{"s":"STOXX","j":43.77,"v":56.86},{"s":"STOXX","j":45.09,"v":56.97},{"s":"STOXX","j":47.28,"v":56.63},{"s":"STOXX","j":48.08,"v":56.88},{"s":"STOXX","j":48.74,"v":56.82},{"s":"STOXX","j":49.54,"v":56.25},{"s":"STOXX","j":50.2,"v":56.18},{"s":"STOXX","j":52.39,"v":56.82},{"s":"STOXX","j":53.05,"v":56.63},{"s":"STOXX","j":53.71,"v":56.59},{"s":"STOXX","j":54.51,"v":56.86},{"s":"STOXX","j":55.24,"v":56.54},{"s":"STOXX","j":57.36,"v":56.48},{"s":"STOXX","j":58.16,"v":55.91},{"s":"STOXX","j":58.82,"v":55.75},{"s":"STOXX","j":59.55,"v":56.32},{"s":"STOXX","j":60.21,"v":56.43},{"s":"STOXX","j":62.4,"v":56.29},{"s":"STOXX","j":63.2,"v":57.16},{"s":"STOXX","j":63.86,"v":57.43},{"s":"STOXX","j":64.52,"v":57.04},{"s":"STOXX","j":65.2,"v":57.04},
{"s":"CAC","j":0,"v":54.61},{"s":"CAC","j":2.19,"v":54.84},{"s":"CAC","j":2.98,"v":55.0},{"s":"CAC","j":4.64,"v":55.07},{"s":"CAC","j":5.31,"v":55.11},{"s":"CAC","j":7.29,"v":54.89},{"s":"CAC","j":8.82,"v":54.89},{"s":"CAC","j":9.42,"v":54.61},{"s":"CAC","j":10.08,"v":55.27},{"s":"CAC","j":12.27,"v":54.89},{"s":"CAC","j":12.93,"v":54.54},{"s":"CAC","j":13.59,"v":54.47},{"s":"CAC","j":14.39,"v":54.32},{"s":"CAC","j":15.25,"v":54.43},{"s":"CAC","j":17.24,"v":54.13},{"s":"CAC","j":18.04,"v":52.0},{"s":"CAC","j":18.7,"v":54.72},{"s":"CAC","j":19.43,"v":54.61},{"s":"CAC","j":20.23,"v":54.32},{"s":"CAC","j":22.35,"v":53.75},{"s":"CAC","j":23.01,"v":53.29},{"s":"CAC","j":23.74,"v":53.82},{"s":"CAC","j":24.54,"v":53.82},{"s":"CAC","j":25.33,"v":54.2},{"s":"CAC","j":28.05,"v":53.41},{"s":"CAC","j":28.71,"v":53.52},{"s":"CAC","j":29.51,"v":54.16},{"s":"CAC","j":30.17,"v":54.2},{"s":"CAC","j":31.83,"v":54.77},{"s":"CAC","j":33.02,"v":54.95},{"s":"CAC","j":33.69,"v":55.27},{"s":"CAC","j":35.15,"v":54.66},{"s":"CAC","j":37.33,"v":54.61},{"s":"CAC","j":38.13,"v":54.89},{"s":"CAC","j":38.79,"v":54.95},{"s":"CAC","j":39.46,"v":54.89},{"s":"CAC","j":40.12,"v":54.43},{"s":"CAC","j":42.31,"v":54.43},{"s":"CAC","j":42.97,"v":54.54},{"s":"CAC","j":43.77,"v":55.68},{"s":"CAC","j":44.43,"v":55.73},{"s":"CAC","j":45.29,"v":56.07},{"s":"CAC","j":47.28,"v":55.75},{"s":"CAC","j":48.08,"v":55.61},{"s":"CAC","j":48.74,"v":55.68},{"s":"CAC","j":50.2,"v":56.07},{"s":"CAC","j":52.39,"v":56.13},{"s":"CAC","j":53.05,"v":55.84},{"s":"CAC","j":53.71,"v":55.91},{"s":"CAC","j":55.17,"v":56.41},{"s":"CAC","j":57.36,"v":56.25},{"s":"CAC","j":58.82,"v":56.07},{"s":"CAC","j":59.55,"v":56.48},{"s":"CAC","j":62.4,"v":56.32},{"s":"CAC","j":63.86,"v":56.98},{"s":"CAC","j":65.19,"v":57.5},
{"s":"Valeo","j":0,"v":54.61},{"s":"Valeo","j":2.32,"v":55.0},{"s":"Valeo","j":2.98,"v":55.68},{"s":"Valeo","j":3.78,"v":54.36},{"s":"Valeo","j":4.64,"v":55.11},{"s":"Valeo","j":5.31,"v":55.11},{"s":"Valeo","j":7.29,"v":54.61},{"s":"Valeo","j":7.96,"v":55.07},{"s":"Valeo","j":8.82,"v":55.0},{"s":"Valeo","j":9.42,"v":54.43},{"s":"Valeo","j":10.08,"v":56.13},{"s":"Valeo","j":12.27,"v":55.45},{"s":"Valeo","j":12.93,"v":55.5},{"s":"Valeo","j":13.59,"v":55.22},{"s":"Valeo","j":14.39,"v":55.45},{"s":"Valeo","j":17.24,"v":55.22},{"s":"Valeo","j":18.7,"v":58.02},{"s":"Valeo","j":19.43,"v":58.02},{"s":"Valeo","j":22.35,"v":56.48},{"s":"Valeo","j":23.01,"v":56.48},{"s":"Valeo","j":23.74,"v":57.43},{"s":"Valeo","j":24.54,"v":56.98},{"s":"Valeo","j":25.2,"v":57.32},{"s":"Valeo","j":27.39,"v":56.41},{"s":"Valeo","j":28.05,"v":56.43},{"s":"Valeo","j":28.71,"v":56.98},{"s":"Valeo","j":29.51,"v":56.32},{"s":"Valeo","j":31.83,"v":58.41},{"s":"Valeo","j":33.02,"v":59.43},{"s":"Valeo","j":33.82,"v":60.27},{"s":"Valeo","j":34.48,"v":58.98},{"s":"Valeo","j":35.15,"v":58.75},{"s":"Valeo","j":37.33,"v":58.8},{"s":"Valeo","j":38.0,"v":59.66},{"s":"Valeo","j":38.66,"v":60.11},{"s":"Valeo","j":39.46,"v":59.55},{"s":"Valeo","j":40.12,"v":58.59},{"s":"Valeo","j":43.1,"v":57.95},{"s":"Valeo","j":43.77,"v":59.5},{"s":"Valeo","j":44.63,"v":59.5},{"s":"Valeo","j":47.28,"v":58.93},{"s":"Valeo","j":47.94,"v":59.14},{"s":"Valeo","j":48.74,"v":59.05},{"s":"Valeo","j":49.54,"v":58.25},{"s":"Valeo","j":50.2,"v":58.23},{"s":"Valeo","j":52.39,"v":59.14},{"s":"Valeo","j":53.05,"v":60.11},{"s":"Valeo","j":53.71,"v":59.95},{"s":"Valeo","j":54.58,"v":60.89},{"s":"Valeo","j":57.36,"v":60.39},{"s":"Valeo","j":58.16,"v":59.5},{"s":"Valeo","j":58.82,"v":58.98},{"s":"Valeo","j":59.55,"v":59.27},{"s":"Valeo","j":60.21,"v":59.95},{"s":"Valeo","j":62.4,"v":59.32},{"s":"Valeo","j":63.86,"v":61.18},{"s":"Valeo","j":64.52,"v":62.39},{"s":"Valeo","j":65.2,"v":62.34}
 ]},
  "mark":{"type":"line","strokeWidth":1.4},
  "encoding":{
   "x":{"field":"j","type":"quantitative","title":null,
    "axis":{"orient":"bottom","offset":-436.4,"values":[5,10,15,20,25,30,35,40,45,50,55,60,65],"labels":false,"grid":false,"zindex":2,
     "tickSize":{"condition":{"test":"datum.value == 25 || datum.value == 45 || datum.value == 65","value":-11},"value":-4},
     "tickColor":"#a0a0a0","tickWidth":1.2,"domainColor":"#a8a8a8","domainWidth":1.3}},
   "y":{"field":"v","type":"quantitative","title":null,
    "axis":{"orient":"left","offset":-91,"values":[50,52,54,56,58,60,62],"grid":false,"tickSize":3,"tickColor":"#a0a0a0","zindex":2,
     "domainColor":"#a8a8a8","domainWidth":1.3,"labelColor":"#a3a3a3","labelFontSize":12,"labelFontWeight":"bold","labelPadding":3}},
   "color":{"field":"s","type":"nominal"}
  }}
 ],
 "resolve":{"axis":{"x":"independent","y":"independent"}}
}
],
"resolve":{"scale":{"x":"independent","y":"independent","color":"shared"},"axis":{"x":"independent","y":"independent"}}
}
